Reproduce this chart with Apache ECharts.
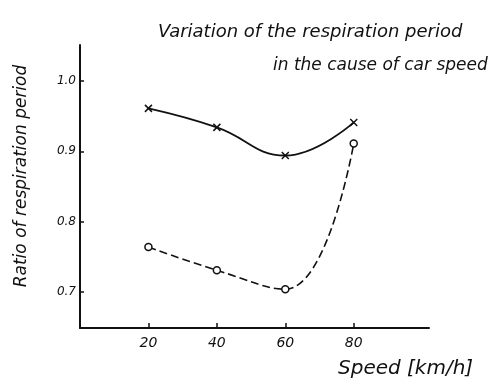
<!DOCTYPE html>
<html>
<head>
<meta charset="utf-8">
<script src="https://cdn.jsdelivr.net/npm/echarts@6/dist/echarts.min.js"></script>
<style>
  html, body { margin: 0; padding: 0; background: #fff; }
  #chart { width: 497px; height: 387px; }
</style>
</head>
<body>
<div id="chart"></div>
<script>
// Car speed (km/h) at which the respiration period was measured
const speeds = [20, 40, 60, 80];
// Ratio of respiration period, upper curve (x markers)
const ratioCross = [0.961, 0.934, 0.894, 0.941];
// Ratio of respiration period, lower curve (o markers)
const ratioCircle = [0.764, 0.731, 0.704, 0.911];
// Tick values shown on each axis
const yTicks = [0.7, 0.8, 0.9, 1.0];
const xTicks = [20, 40, 60, 80];

const ink = '#111';
const hand = "'DejaVu Sans', sans-serif";

const chart = echarts.init(document.getElementById('chart'));
chart.setOption({
  backgroundColor: '#fff',
  animation: false,
  title: [
    { text: 'Variation of the respiration period', left: 153, top: 18,
      textStyle: { fontFamily: hand, fontStyle: 'italic', fontWeight: 'normal', fontSize: 18, color: ink } },
    { text: 'in the cause of car speed', left: 268, top: 52,
      textStyle: { fontFamily: hand, fontStyle: 'italic', fontWeight: 'normal', fontSize: 17, color: ink } }
  ],
  grid: { left: 80, top: 45, right: 68, bottom: 59 },
  xAxis: {
    type: 'value', min: 0, max: 102,
    splitLine: { show: false },
    axisLine: { show: true, lineStyle: { color: ink, width: 2 } },
    axisTick: { show: true, inside: true, length: 5, customValues: xTicks, lineStyle: { color: ink, width: 1.5 } },
    axisLabel: { customValues: xTicks, margin: 8, fontFamily: hand, fontStyle: 'italic', fontSize: 14, color: ink }
  },
  yAxis: {
    type: 'value', min: 0.649, max: 1.051,
    splitLine: { show: false },
    axisLine: { show: true, lineStyle: { color: ink, width: 2 } },
    axisTick: { show: true, inside: true, length: 4, customValues: yTicks, lineStyle: { color: ink, width: 1.5 } },
    axisLabel: { customValues: yTicks, margin: 4, formatter: v => v.toFixed(1),
      fontFamily: hand, fontStyle: 'italic', fontSize: 12, color: ink }
  },
  graphic: [
    { type: 'text', x: 22, y: 176, rotation: Math.PI / 2,
      style: { text: 'Ratio of respiration period', align: 'center', verticalAlign: 'middle',
        font: "italic 17px 'DejaVu Sans', sans-serif", fill: ink } },
    { type: 'text', left: 338, top: 359,
      style: { text: 'Speed [km/h]', font: "italic 20px 'DejaVu Sans', sans-serif", fill: ink } }
  ],
  series: [
    {
      type: 'line', smooth: 0.45,
      data: speeds.map((s, i) => [s, ratioCross[i]]),
      symbol: 'path://M0,0L10,10M10,0L0,10', symbolSize: 7,
      itemStyle: { color: ink, borderColor: ink, borderWidth: 1.5 },
      lineStyle: { color: ink, width: 1.8 }
    },
    {
      type: 'line', smooth: 0.45,
      data: speeds.map((s, i) => [s, ratioCircle[i]]),
      symbol: 'circle', symbolSize: 7,
      itemStyle: { color: '#fff', borderColor: ink, borderWidth: 1.5, borderType: 'solid' },
      lineStyle: { color: ink, width: 1.6, type: [8, 4] }
    }
  ]
});
</script>
</body>
</html>
